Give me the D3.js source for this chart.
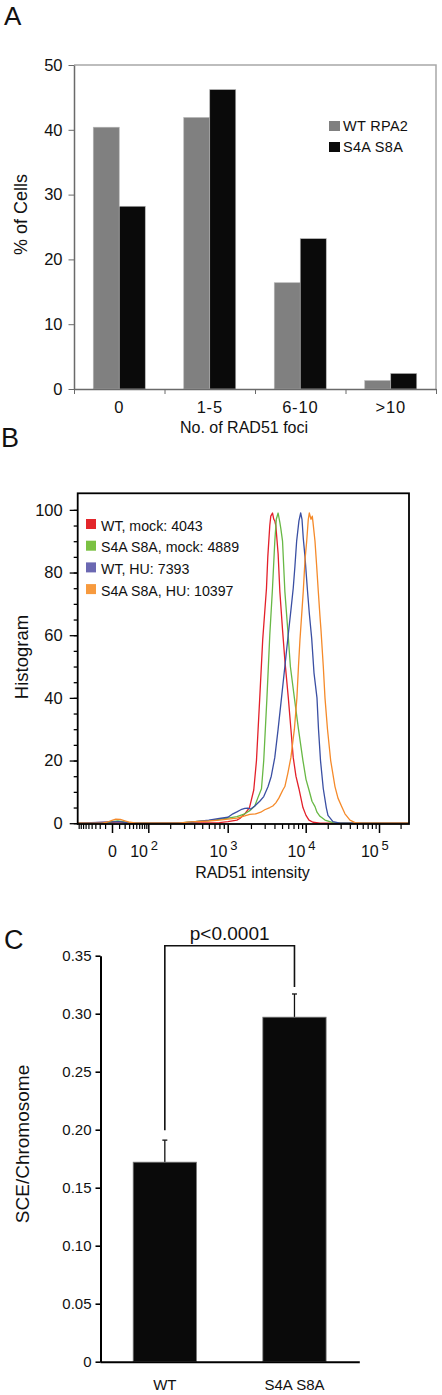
<!DOCTYPE html>
<html><head><meta charset="utf-8">
<script src="https://cdn.jsdelivr.net/npm/d3@7"></script>
<style>
body{margin:0;background:#fff}
svg{display:block}
text{font-family:"Liberation Sans",Arial,Helvetica,sans-serif}
</style>
</head><body>
<svg id="c" width="442" height="1395"></svg>
<script>
// ---------- Panel A data ----------
const fociCategories = ["0", "1-5", "6-10", ">10"];
const fociSeries = ["WT RPA2", "S4A S8A"];
const wtRpa2Pct = [40.4, 41.9, 16.4, 1.3];
const s4aS8aPct = [28.2, 46.2, 23.2, 2.4];
const pctTicks = [0, 10, 20, 30, 40, 50];

// ---------- Panel B data (intensity, % of max) ----------
const histLabels = ["WT, mock: 4043", "S4A S8A, mock: 4889", "WT, HU: 7393", "S4A S8A, HU: 10397"];
const wtMock = [[-95,0],[0,0.3],[10,0.4],[25,0.1],[50,0],[800,0.2],[1009,0.5],[1316,1],[1438,1.5],[1667,3],[1915,5],[2173,10.6],[2355,20],[2594,40],[2830,58.5],[3164,75],[3289,85],[3487,95],[3592,98],[3776,99],[3925,97],[4041,96.5],[4163,95],[4455,86],[4687,74],[5073,61.7],[5430,52],[6010,40],[6486,30],[6940,21],[7516,15],[8204,11],[9226,5],[10095,2.5],[11092,1],[12580,0.3],[15668,0],[262144,0]];
const s4aMock = [[-95,0],[-7,0.1],[0,0.5],[8,0.7],[20,0.4],[35,0.1],[60,0],[251,0],[365,0.4],[599,0.8],[800,1.2],[1009,1.6],[1316,2.1],[1667,3],[1931,4],[2240,5.5],[2445,8],[2730,11],[2918,20],[3206,40],[3487,60],[3776,75],[4041,90],[4223,97],[4455,99],[4687,96],[4826,94],[5073,90],[5430,74],[5984,60],[6383,50],[7178,40],[8091,30],[9226,20],[10095,14],[11092,10.6],[12190,7],[13397,5.3],[14260,3.5],[15668,2.2],[18338,1],[23560,0.2],[29380,0],[262144,0]];
const wtHU = [[-95,0],[0,0.4],[10,0.5],[25,0.2],[45,0],[251,0],[365,0.3],[599,1],[800,1.5],[1009,1.9],[1169,3],[1316,3.6],[1483,4.3],[1667,4.7],[1820,4.8],[1990,4.5],[2240,5.5],[2594,7],[2918,8.5],[3316,11.7],[3643,15],[4041,21],[4455,30],[4920,40],[5430,50],[5984,60],[6486,68],[6940,75],[7295,82],[7669,90],[8204,96.5],[8630,99],[8973,97],[9311,91],[9796,85],[10514,75],[11197,67],[12074,59],[12980,48],[14260,40],[14960,30],[15930,20],[17390,11],[19100,5],[20140,2.5],[23560,0.5],[29380,0],[262144,0]];
const s4aHU = [[-95,0],[-15,0],[-7,0.3],[0,0.9],[5,1.3],[12,1.2],[22,0.7],[32,0.3],[50,0.05],[80,0],[251,0],[365,0.4],[599,0.7],[800,1],[1009,1.3],[1316,1.6],[1667,2.3],[1931,2.8],[2306,3],[2673,3.5],[3006,4.3],[3487,5],[3810,5.5],[4163,6.5],[4550,8],[5117,10.6],[5430,11.7],[5932,16],[6486,21],[7178,30],[7730,40],[8091,50],[8452,58.5],[8973,68],[9311,74],[9796,84],[10318,90],[10851,97],[11197,99],[11812,97],[12305,98],[12580,96],[13397,90],[14126,82],[14857,74],[15668,66],[16170,61.7],[17390,50],[18338,40],[19840,30],[21930,20],[25104,11.7],[27588,8],[30968,5.3],[34360,3],[40200,1],[47060,0.2],[58600,0],[262144,0]];
const histMajorTicks = [0, 100, 1000, 10000, 100000];
const histExponents = ["", "2", "3", "4", "5"];
const histMinorTicks = [-90,-80,-70,-60,-50,-40,-30,-20,-10,10,20,30,40,50,60,70,80,90,
  200,300,400,500,600,700,800,900,2000,3000,4000,5000,6000,7000,8000,9000,
  20000,30000,40000,50000,60000,70000,80000,90000,200000];
const histYTicks = [0, 20, 40, 60, 80, 100];

// ---------- Panel C data ----------
const sceGroups = ["WT", "S4A S8A"];
const sceMean = [0.172, 0.297];
const sceErr = [0.019, 0.020];
const sceTicks = [0, 0.05, 0.10, 0.15, 0.20, 0.25, 0.30, 0.35];
const pValueLabel = "p<0.0001";

const svg = d3.select("#c");
const TXT = "#111";

function styleAxis(g, color, fs) {
  g.selectAll("line").attr("stroke", color);
  g.selectAll("path").attr("stroke", color);
  g.selectAll("text").attr("fill", TXT).attr("font-size", fs)
    .attr("font-family", '"Liberation Sans",Arial,sans-serif');
}

// ================= Panel A =================
const gA = svg.append("g");
gA.append("text").attr("x", 4).attr("y", 25).attr("font-size", 26).attr("fill", TXT).text("A");

const xA = d3.scaleBand().domain(fociCategories).range([74, 436]);
const groupW = 52;
const xAin = d3.scaleBand().domain(fociSeries).range([0, groupW]);
const yA = d3.scaleLinear().domain([0, 50]).range([389, 65]);
const seriesA = [
  {name: fociSeries[0], vals: wtRpa2Pct, color: "#808080"},
  {name: fociSeries[1], vals: s4aS8aPct, color: "#0a0a0a"}
];

gA.append("path")
  .attr("d", `M${xA.range()[0]},${yA(50)}H${xA.range()[1]}V${yA(0)}`)
  .attr("fill", "none").attr("stroke", "#a8a8a8").attr("stroke-width", 1.5);

seriesA.forEach(s => {
  gA.append("g").selectAll("rect").data(s.vals).join("rect")
    .attr("x", (d, i) => xA(fociCategories[i]) + (xA.bandwidth() - groupW) / 2 + xAin(s.name))
    .attr("width", xAin.bandwidth())
    .attr("y", d => yA(d))
    .attr("height", d => yA(0) - yA(d))
    .attr("fill", s.color)
    .attr("stroke", "#b5b5b5").attr("stroke-width", 0.6);
});

const yAxA = gA.append("g").attr("transform", `translate(${xA.range()[0]},0)`)
  .call(d3.axisLeft(yA).tickValues(pctTicks).tickSize(5.5).tickPadding(6).tickSizeOuter(0));
styleAxis(yAxA, "#6a6a6a", 16.5);
yAxA.select(".domain").attr("stroke-width", 1.5);

const xAidx = d3.scaleLinear().domain([0, fociCategories.length]).range(xA.range());
const xAxB = gA.append("g").attr("transform", `translate(0,${yA(0)})`)
  .call(d3.axisBottom(xAidx).tickValues(d3.range(fociCategories.length + 1)).tickSize(5).tickSizeOuter(0).tickFormat(""));
styleAxis(xAxB, "#6a6a6a", 16);
xAxB.select(".domain").attr("stroke-width", 1.5);

const xAxL = gA.append("g").attr("transform", `translate(0,${yA(0)})`)
  .call(d3.axisBottom(xA).tickSize(0).tickPadding(12.6));
xAxL.select(".domain").remove();
styleAxis(xAxL, "#6a6a6a", 16.5);
xAxL.selectAll("text").attr("letter-spacing", 0.8);

gA.append("text").attr("x", 244).attr("y", 433).attr("text-anchor", "middle")
  .attr("font-size", 16).attr("fill", TXT).text("No. of RAD51 foci");
gA.append("text").attr("transform", "translate(21,214.5) rotate(-90)")
  .attr("text-anchor", "middle").attr("dominant-baseline", "central")
  .attr("font-size", 18).attr("fill", TXT).text("% of Cells");

seriesA.forEach((s, i) => {
  const ly = 121 + i * 21;
  gA.append("rect").attr("x", 329).attr("y", ly).attr("width", 11).attr("height", 10).attr("fill", s.color);
  gA.append("text").attr("x", 343).attr("y", ly + 10).attr("font-size", 14.5).attr("fill", TXT)
    .attr("letter-spacing", 0.3).text(s.name);
});

// ================= Panel B =================
const gB = svg.append("g");
gB.append("text").attr("x", 1).attr("y", 446.5).attr("font-size", 27).attr("fill", TXT).text("B");

const xB = d3.scaleSymlog().constant(30)
  .domain([-95, 0, 100, 1000, 10000, 100000, 262144])
  .range([77.7, 112, 148.3, 227.7, 305.7, 379, 409]);
const yB = d3.scaleLinear().domain([0, 105]).range([823.2, 494.2]);

const histSeries = [
  {label: histLabels[0], data: wtMock, line: "#e3202a", key: "#e3262b"},
  {label: histLabels[1], data: s4aMock, line: "#68b845", key: "#7bc143"},
  {label: histLabels[2], data: wtHU, line: "#3a4fa3", key: "#6b68b2"},
  {label: histLabels[3], data: s4aHU, line: "#f58a2a", key: "#f79a3e"}
];

const lineB = d3.line().x(d => xB(d[0])).y(d => yB(d[1]));
histSeries.forEach(s => {
  gB.append("path").datum(s.data).attr("d", lineB)
    .attr("fill", "none").attr("stroke", s.line).attr("stroke-width", 1.3)
    .attr("stroke-linejoin", "round");
});

gB.append("rect").attr("x", 77.7).attr("y", 493.3).attr("width", 409 - 77.7).attr("height", 824 - 493.3)
  .attr("fill", "none").attr("stroke", "#000").attr("stroke-width", 1.8);

const yMinor = gB.append("g").attr("transform", "translate(77.7,0)")
  .call(d3.axisLeft(yB).tickValues(d3.range(0, 101, 5)).tickSize(4).tickFormat(""));
yMinor.select(".domain").remove();
styleAxis(yMinor, "#000", 16);
const yMajor = gB.append("g").attr("transform", "translate(77.7,0)")
  .call(d3.axisLeft(yB).tickValues(histYTicks).tickSize(8).tickPadding(7));
yMajor.select(".domain").remove();
styleAxis(yMajor, "#000", 16.5);
gB.selectAll("line").attr("stroke-width", 1.3);

const xMinor = gB.append("g").attr("transform", "translate(0,824)")
  .call(d3.axisBottom(xB).tickValues(histMinorTicks).tickSize(5).tickFormat(""));
xMinor.select(".domain").remove();
styleAxis(xMinor, "#000", 16);
const xMajor = gB.append("g").attr("transform", "translate(0,824)")
  .call(d3.axisBottom(xB).tickValues(histMajorTicks).tickSize(9).tickFormat(""));
xMajor.select(".domain").remove();
styleAxis(xMajor, "#000", 16);
xMinor.selectAll("line").attr("stroke-width", 1.2);
xMajor.selectAll("line").attr("stroke-width", 1.5);
xMajor.selectAll(".tick").each(function(d, i) {
  const t = d3.select(this);
  if (histExponents[i] === "") {
    t.append("text").attr("x", 0).attr("y", 33).attr("text-anchor", "middle")
      .attr("font-size", 16).attr("fill", TXT).text("0");
  } else {
    t.append("text").attr("x", -0.8).attr("y", 33).attr("text-anchor", "end")
      .attr("font-size", 16).attr("fill", TXT).text("10");
    t.append("text").attr("x", 2).attr("y", 26).attr("text-anchor", "start")
      .attr("font-size", 13).attr("fill", TXT).text(histExponents[i]);
  }
});

gB.append("text").attr("x", 252.5).attr("y", 878).attr("text-anchor", "middle")
  .attr("font-size", 16).attr("fill", TXT).text("RAD51 intensity");
gB.append("text").attr("transform", "translate(21,657) rotate(-90)")
  .attr("text-anchor", "middle").attr("dominant-baseline", "central")
  .attr("font-size", 18.5).attr("fill", TXT).text("Histogram");

histSeries.forEach((s, i) => {
  const ly = 519 + i * 21.7;
  gB.append("rect").attr("x", 86).attr("y", ly).attr("width", 10).attr("height", 10).attr("fill", s.key);
  gB.append("text").attr("x", 101).attr("y", ly + 11.5).attr("font-size", 14.2).attr("fill", TXT).text(s.label);
});

// ================= Panel C =================
const gC = svg.append("g");
gC.append("text").attr("x", 4).attr("y", 949).attr("font-size", 27).attr("fill", TXT).text("C");

const xC = d3.scaleBand().domain(sceGroups).range([100, 359.3]);
const yC = d3.scaleLinear().domain([0, 0.35]).range([1361.7, 955.7]);
const barW = xC.bandwidth() * 0.488;
const cx = g => xC(g) + xC.bandwidth() / 2;

gC.append("g").selectAll("g").data(sceGroups).join("g").each(function(g, i) {
  const e = d3.select(this);
  e.append("line").attr("x1", cx(g)).attr("x2", cx(g))
    .attr("y1", yC(sceMean[i])).attr("y2", yC(sceMean[i] + sceErr[i]))
    .attr("stroke", "#111").attr("stroke-width", 1.3);
  e.append("line").attr("x1", cx(g) - 2.5).attr("x2", cx(g) + 2.5)
    .attr("y1", yC(sceMean[i] + sceErr[i])).attr("y2", yC(sceMean[i] + sceErr[i]))
    .attr("stroke", "#111").attr("stroke-width", 1.3);
});

gC.append("g").selectAll("rect").data(sceMean).join("rect")
  .attr("x", (d, i) => cx(sceGroups[i]) - barW / 2)
  .attr("width", barW)
  .attr("y", d => yC(d))
  .attr("height", d => yC(0) - yC(d))
  .attr("fill", "#0a0a0a").attr("stroke", "#777").attr("stroke-width", 0.8);

const brY = yC(0.35) - 10;
const legL = yC(sceMean[0] + sceErr[0]) - 10;
const legR = yC(sceMean[1] + sceErr[1]) - 7;
gC.append("path")
  .attr("d", `M${cx(sceGroups[0])},${legL}V${brY}H${cx(sceGroups[1])}V${legR}`)
  .attr("fill", "none").attr("stroke", "#111").attr("stroke-width", 1.6);
gC.append("text").attr("x", (cx(sceGroups[0]) + cx(sceGroups[1])) / 2).attr("y", 940)
  .attr("text-anchor", "middle").attr("font-size", 19).attr("fill", TXT).text(pValueLabel);

const yAxC = gC.append("g").attr("transform", "translate(100.5,0)")
  .call(d3.axisLeft(yC).tickValues(sceTicks).tickSize(5).tickPadding(4).tickSizeOuter(0)
    .tickFormat(d => d === 0 ? "0" : d3.format(".2f")(d)));
styleAxis(yAxC, "#000", 15);
yAxC.selectAll("line").attr("stroke-width", 1.6);
yAxC.select(".domain").attr("stroke-width", 2);

const xAxC = gC.append("g").attr("transform", `translate(0,${yC(0)})`)
  .call(d3.axisBottom(xC).tickSize(0).tickPadding(17.5).tickSizeOuter(0));
styleAxis(xAxC, "#000", 15);
xAxC.select(".domain").attr("stroke-width", 2);

gC.append("text").attr("transform", "translate(22,1144) rotate(-90)")
  .attr("text-anchor", "middle").attr("dominant-baseline", "central")
  .attr("font-size", 19).attr("fill", TXT).text("SCE/Chromosome");
</script>
</body></html>
